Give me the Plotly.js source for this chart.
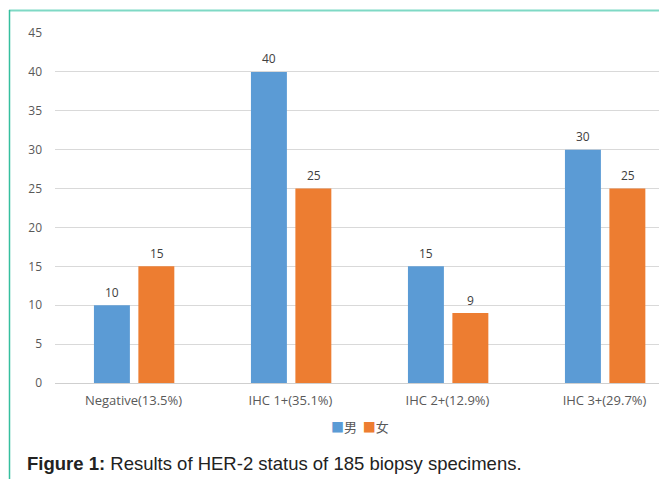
<!DOCTYPE html>
<html>
<head>
<meta charset="utf-8">
<script src="https://cdn.plot.ly/plotly-3.0.1.min.js"></script>
<style>html,body{margin:0;padding:0;background:#fff;}#chart{width:659px;height:479px;}</style>
</head>
<body>
<div id="chart"></div>
<script>
const categories = ["Negative(13.5%)", "IHC 1+(35.1%)", "IHC 2+(12.9%)", "IHC 3+(29.7%)"];
const maleValues = [10, 40, 15, 30];
const femaleValues = [15, 25, 9, 25];
const seriesNames = ["男", "女"];
const seriesColors = ["#5B9BD5", "#ED7D31"];
const captionBold = "Figure 1:";
const captionText = " Results of HER-2 status of 185 biopsy specimens.";

const labelFont = {family: "Open Sans, sans-serif", size: 12, color: "#404040"};

const traces = [
  {type: "bar", name: seriesNames[0], x: categories, y: maleValues,
   marker: {color: seriesColors[0]}, width: 0.229, offset: -0.252, hoverinfo: "none"},
  {type: "bar", name: seriesNames[1], x: categories, y: femaleValues,
   marker: {color: seriesColors[1]}, width: 0.229, offset: 0.031, hoverinfo: "none"}
];

const valueAnnotations = [];
[maleValues, femaleValues].forEach((vals, s) => {
  vals.forEach((v, i) => {
    valueAnnotations.push({x: categories[i], y: v, xref: "x", yref: "y",
      text: String(v), showarrow: false, xshift: s === 0 ? -21.5 : 23, yshift: 13,
      yanchor: "middle", font: labelFont});
  });
});

const legendText = seriesNames.map((n, i) =>
  "<span style='color:" + seriesColors[i] + "'>■</span>" + n).join("  ");

const layout = {
  width: 659, height: 479,
  margin: {l: 55, r: 0, t: 33, b: 96},
  paper_bgcolor: "#fff", plot_bgcolor: "#fff",
  showlegend: false,
  xaxis: {type: "category", range: [-0.5, 3.347], showgrid: false, zeroline: false,
    showline: false, ticks: "", ticklabelstandoff: 8,
    tickfont: {family: "Open Sans, sans-serif", size: 13, color: "#595959"}, fixedrange: true},
  yaxis: {range: [0, 45], dtick: 5, tick0: 0, showgrid: true, gridcolor: "#d9d9d9", gridwidth: 1,
    zeroline: true, zerolinecolor: "#cfcfcf", zerolinewidth: 1, showline: false, ticks: "",
    ticklabelstandoff: 12,
    tickfont: {family: "Open Sans, sans-serif", size: 12, color: "#595959"}, fixedrange: true},
  shapes: [
    {type: "line", xref: "paper", yref: "paper", x0: (9 - 55) / 604, x1: 1.01, y0: (383 - 10.5) / 350, y1: (383 - 10.5) / 350,
     line: {color: "#7fd9c5", width: 2}},
    {type: "line", xref: "paper", yref: "paper", x0: (9.5 - 55) / 604, x1: (9.5 - 55) / 604, y0: (383 - 10) / 350, y1: (383 - 480) / 350,
     line: {color: "#35bf9e", width: 1.5}}
  ],
  annotations: valueAnnotations.concat([
    {xref: "paper", yref: "paper", x: (360 - 55) / 604, y: (383 - 426) / 350, xanchor: "center", yanchor: "middle",
     showarrow: false, text: legendText,
     font: {family: "Noto Sans CJK SC, sans-serif", size: 13, color: "#595959"}},
    {xref: "paper", yref: "paper", x: (25 - 55) / 604, y: (383 - 463) / 350, xanchor: "left", yanchor: "middle",
     showarrow: false, align: "left",
     text: "<b>" + captionBold + "</b>" + captionText,
     font: {family: "Liberation Sans, Arial, sans-serif", size: 18.5, color: "#222"}}
  ])
};

Plotly.newPlot("chart", traces, layout, {displayModeBar: false, staticPlot: true});
</script>
</body>
</html>
